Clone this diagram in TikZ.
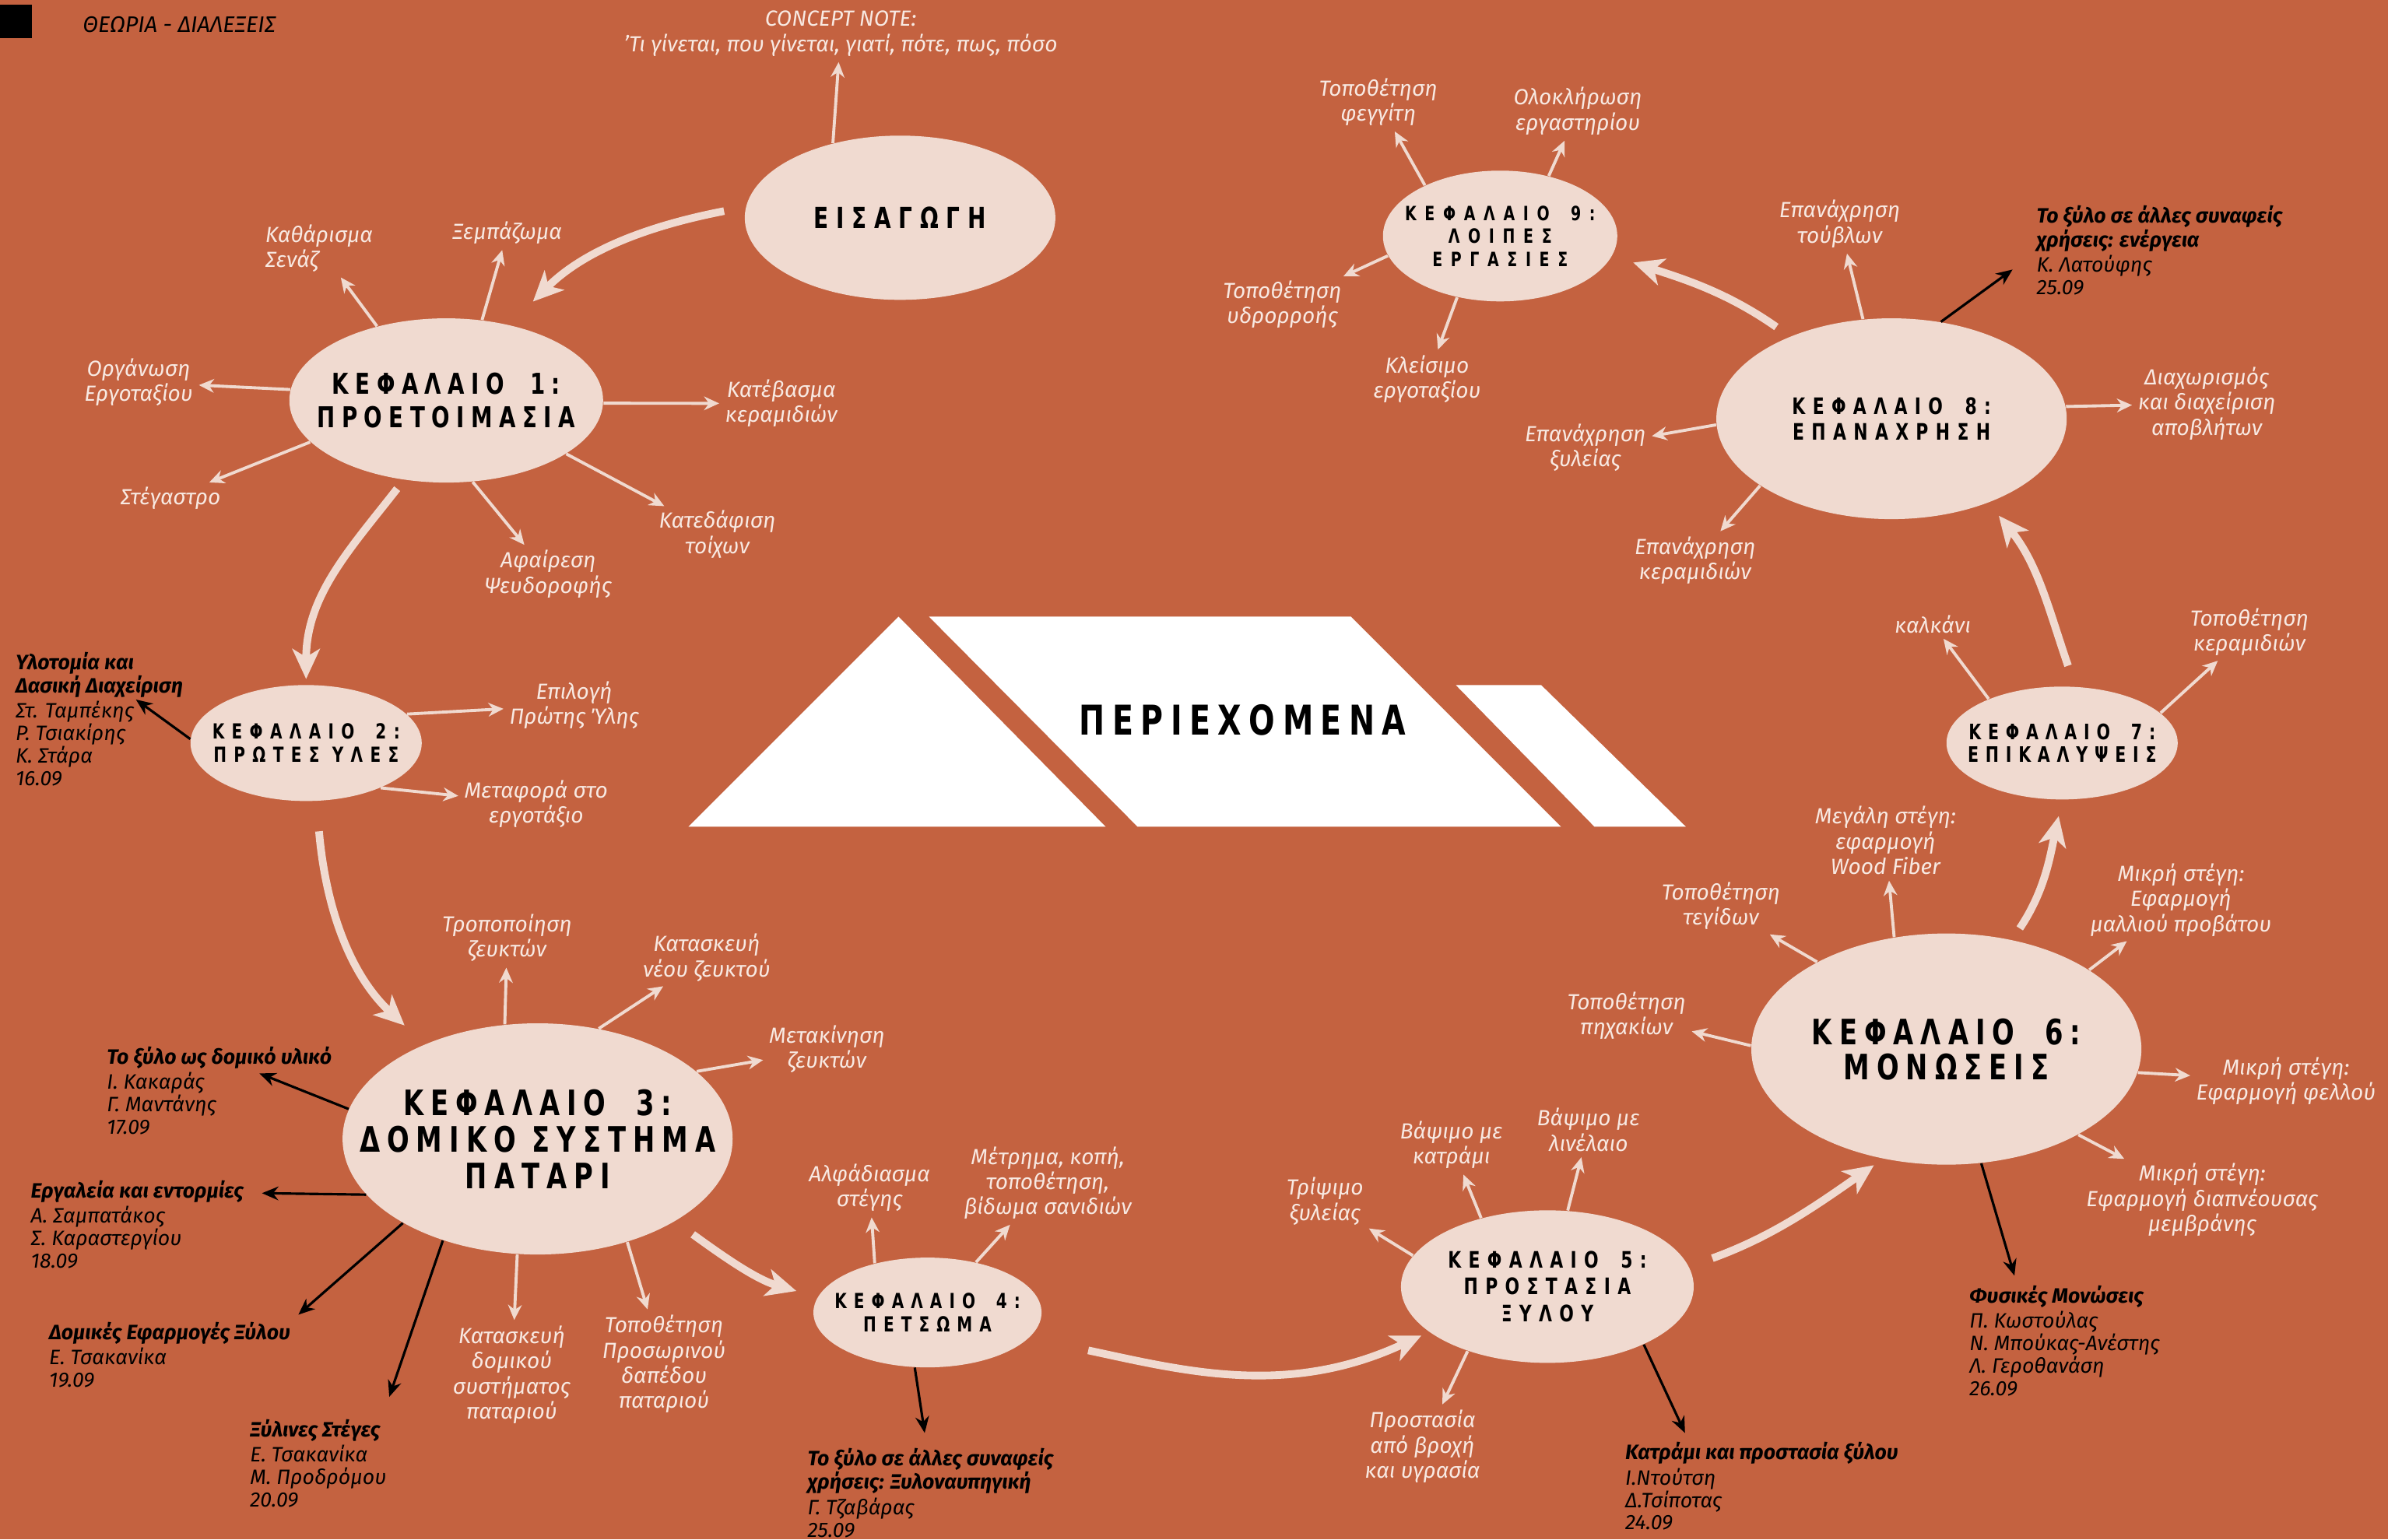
\documentclass[tikz,border=0pt]{standalone}
\usepackage{fontspec}
\setmainfont{Fira Sans}
\newfontfamily\capsfont[FakeStretch=0.75]{DejaVu Sans}
\usetikzlibrary{shapes.geometric,arrows.meta,positioning}

\definecolor{terra}{RGB}{196,98,64}
\definecolor{blush}{RGB}{240,218,208}
\definecolor{labelc}{RGB}{248,233,226}

% title font: size, baselineskip, letter spacing
\newcommand\ctitlefont[3]{\fontsize{#1}{#2}\selectfont\capsfont\bfseries\addfontfeature{LetterSpace=#3}}
\newcommand\kef[1]{ΚΕΦΑΛΑΙΟ\hspace{0.4em} #1:}

\tikzset{
  chapnode/.style 2 args={ellipse, fill=blush, minimum width=#1cm, minimum height=#2cm,
    inner sep=-30pt, align=center, text=black},
  lbl/.style={text=labelc, font=\fontsize{8}{9.2}\selectfont\itshape, align=center, inner sep=1pt},
  blk/.style={text=black, font=\fontsize{7.6}{8.2}\selectfont\itshape, align=left, inner sep=0.5pt, anchor=north west},
  blkt/.style={blk, font=\fontsize{7.6}{8.6}\selectfont\itshape\bfseries},
  spoke/.style={draw=blush, line width=1.1pt, -{Stealth[length=5.5pt,width=5pt]}, shorten >=1pt},
  flow/.style={draw=blush, line width=2.8pt, -{Stealth[length=11pt,width=10pt,inset=3pt]}},
  blackarr/.style={draw=black, line width=0.9pt, -{Stealth[length=6pt,width=5pt]}}
}

\begin{document}
\begin{tikzpicture}[x=0.019566cm, y=-0.019566cm]

  % page
  \fill[terra] (0,0) rectangle (1568,1011);
  \useasboundingbox (0,0) rectangle (1568,1011);
  \fill[black] (0,3) rectangle (21,25);
  \node[text=black, font=\fontsize{8.2}{9}\selectfont\itshape, anchor=west] (theo) at (48,16) {ΘΕΩΡΙΑ - ΔΙΑΛΕΞΕΙΣ};

  % central roof
  \fill[white] (590,405) -- (726,543) -- (452,543) -- cycle;
  \fill[white] (610,405) -- (887,405) -- (1025,543) -- (747,543) -- cycle;
  \fill[white] (956,450) -- (1012,450) -- (1107,543) -- (1047,543) -- cycle;
  \node[font=\ctitlefont{15}{16}{18}] (cont) at (816,473) {ΠΕΡΙΕΧΟΜΕΝΑ};

  % chapters
  \node[chapnode={3.99}{2.11}, font=\ctitlefont{10.6}{11}{26}] (eis) at (591,143) {ΕΙΣΑΓΩΓΗ};
  \node[chapnode={4.03}{2.11}, font=\ctitlefont{10.5}{12.3}{23}] (k1) at (293,263) {\kef{1}\\ΠΡΟΕΤΟΙΜΑΣΙΑ};
  \node[chapnode={2.97}{1.49}, font=\ctitlefont{7.6}{8.4}{35}] (k2) at (201,488) {\kef{2}\\ΠΡΩΤΕΣ ΥΛΕΣ};
  \node[chapnode={5.01}{2.97}, font=\ctitlefont{12.8}{13.3}{20}] (k3) at (353,748) {\kef{3}\\ΔΟΜΙΚΟ ΣΥΣΤΗΜΑ\\ΠΑΤΑΡΙ};
  \node[chapnode={2.93}{1.41}, font=\ctitlefont{7.6}{8.4}{34}] (k4) at (609,862) {\kef{4}\\ΠΕΤΣΩΜΑ};
  \node[chapnode={3.76}{1.96}, font=\ctitlefont{8.3}{9.7}{32}] (k5) at (1016,845) {\kef{5}\\ΠΡΟΣΤΑΣΙΑ\\ΞΥΛΟΥ};
  \node[chapnode={5.01}{2.97}, font=\ctitlefont{12.8}{12.8}{20}] (k6) at (1278,689) {\kef{6}\\ΜΟΝΩΣΕΙΣ};
  \node[chapnode={2.97}{1.45}, font=\ctitlefont{7.8}{8.4}{32}] (k7) at (1354,488) {\kef{7}\\ΕΠΙΚΑΛΥΨΕΙΣ};
  \node[chapnode={4.50}{2.58}, font=\ctitlefont{8.3}{9.5}{32}] (k8) at (1242,275) {\kef{8}\\ΕΠΑΝΑΧΡΗΣΗ};
  \node[chapnode={3.01}{1.68}, font=\ctitlefont{7.2}{8.4}{42}] (k9) at (985,155) {\kef{9}\\ΛΟΙΠΕΣ\\ΕΡΓΑΣΙΕΣ};

  % white labels
  \node[lbl] (concept) at (552,22) {CONCEPT NOTE:\\'Τι γίνεται, που γίνεται, γιατί, πότε, πως, πόσο};

  \node[lbl, align=left, anchor=west] (kath) at (172,163) {Καθάρισμα\\Σενάζ};
  \node[lbl] (xemp) at (333,153) {Ξεμπάζωμα};
  \node[lbl] (org) at (91,251) {Οργάνωση\\Εργοταξίου};
  \node[lbl] (steg) at (112,327) {Στέγαστρο};
  \node[lbl] (kateb) at (513,265) {Κατέβασμα\\κεραμιδιών};
  \node[lbl] (kated) at (471,351) {Κατεδάφιση\\τοίχων};
  \node[lbl] (afair) at (360,377) {Αφαίρεση\\Ψευδοροφής};

  \node[lbl] (epil) at (377,463) {Επιλογή\\Πρώτης Ύλης};
  \node[lbl] (metaf) at (352,528) {Μεταφορά στο\\εργοτάξιο};

  \node[lbl] (tropo) at (333,616) {Τροποποίηση\\ζευκτών};
  \node[lbl] (kataz) at (464,629) {Κατασκευή\\νέου ζευκτού};
  \node[lbl] (metak) at (543,689) {Μετακίνηση\\ζευκτών};
  \node[lbl] (katad) at (336,903) {Κατασκευή\\δομικού\\συστήματος\\παταριού};
  \node[lbl] (topop) at (436,896) {Τοποθέτηση\\Προσωρινού\\δαπέδου\\παταριού};

  \node[lbl] (alfa) at (571,780) {Αλφάδιασμα\\στέγης};
  \node[lbl] (metr) at (688,777) {Μέτρημα, κοπή,\\τοποθέτηση,\\βίδωμα σανιδιών};

  \node[lbl] (trip) at (870,789) {Τρίψιμο\\ξυλείας};
  \node[lbl] (vkat) at (953,752) {Βάψιμο με\\κατράμι};
  \node[lbl] (vlin) at (1043,742) {Βάψιμο με\\λινέλαιο};
  \node[lbl] (prost) at (934,950) {Προστασία\\από βροχή\\και υγρασία};

  \node[lbl] (pich) at (1068,667) {Τοποθέτηση\\πηχακίων};
  \node[lbl] (teg) at (1130,595) {Τοποθέτηση\\τεγίδων};
  \node[lbl] (wood) at (1238,552) {Μεγάλη στέγη:\\εφαρμογή\\Wood Fiber};
  \node[lbl] (mall) at (1432,591) {Μικρή στέγη:\\Εφαρμογή\\μαλλιού προβάτου};
  \node[lbl] (fell) at (1501,710) {Μικρή στέγη:\\Εφαρμογή φελλού};
  \node[lbl] (memb) at (1446,788) {Μικρή στέγη:\\Εφαρμογή διαπνέουσας\\μεμβράνης};

  \node[lbl] (kalk) at (1269,410) {καλκάνι};
  \node[lbl] (topk) at (1477,415) {Τοποθέτηση\\κεραμιδιών};

  \node[lbl] (tuvl) at (1208,147) {Επανάχρηση\\τούβλων};
  \node[lbl] (xyle) at (1041,294) {Επανάχρηση\\ξυλείας};
  \node[lbl] (keram) at (1113,368) {Επανάχρηση\\κεραμιδιών};
  \node[lbl] (diax) at (1449,265) {Διαχωρισμός\\και διαχείριση\\αποβλήτων};

  \node[lbl] (feg) at (905,67) {Τοποθέτηση\\φεγγίτη};
  \node[lbl] (olok) at (1036,73) {Ολοκλήρωση\\εργαστηρίου};
  \node[lbl] (ydr) at (842,200) {Τοποθέτηση\\υδρορροής};
  \node[lbl] (klei) at (937,249) {Κλείσιμο\\εργοταξίου};

  % black labels (lectures)
  \node[blkt] (ylot) at (9,427) {Υλοτομία και\\Δασική Διαχείριση};
  \node[blk] (ylotn) at (ylot.south west) {Στ. Ταμπέκης\\Ρ. Τσιακίρης\\Κ. Στάρα\\16.09};
  \node[blkt] (xdom) at (69,686) {Το ξύλο ως δομικό υλικό};
  \node[blk] (xdomn) at (xdom.south west) {Ι. Κακαράς\\Γ. Μαντάνης\\17.09};
  \node[blkt] (erg) at (19,774) {Εργαλεία και εντορμίες};
  \node[blk] (ergn) at (erg.south west) {Α. Σαμπατάκος\\Σ. Καραστεργίου\\18.09};
  \node[blkt] (dom) at (31,867) {Δομικές Εφαρμογές Ξύλου};
  \node[blk] (domn) at (dom.south west) {Ε. Τσακανίκα\\19.09};
  \node[blkt] (xyl) at (163,931) {Ξύλινες Στέγες};
  \node[blk] (xyln) at (xyl.south west) {Ε. Τσακανίκα\\Μ. Προδρόμου\\20.09};
  \node[blkt] (xna) at (529,950) {Το ξύλο σε άλλες συναφείς\\χρήσεις: Ξυλοναυπηγική};
  \node[blk] (xnan) at (xna.south west) {Γ. Τζαβάρας\\25.09};
  \node[blkt] (katr) at (1066,946) {Κατράμι και προστασία ξύλου};
  \node[blk] (katrn) at (katr.south west) {Ι.Ντούτση\\Δ.Τσίποτας\\24.09};
  \node[blkt] (fys) at (1292,843) {Φυσικές Μονώσεις};
  \node[blk] (fysn) at (fys.south west) {Π. Κωστούλας\\Ν. Μπούκας-Ανέστης\\Λ. Γεροθανάση\\26.09};
  \node[blkt] (ener) at (1336,134) {Το ξύλο σε άλλες συναφείς\\χρήσεις: ενέργεια};
  \node[blk] (enern) at (ener.south west) {Κ. Λατούφης\\25.09};

  % flow between chapters
  \draw[flow, shorten <=8pt, shorten >=12pt] (eis.176) to[out=191,in=45] (k1.50);
  \draw[flow, shorten <=4pt, shorten >=2pt] (k1.242) to[out=232,in=90] (k2.90);
  \draw[flow, shorten <=11pt, shorten >=10pt] (k2.280) to[out=275,in=137] (k3.140);
  \draw[flow, shorten <=8pt, shorten >=8pt] (k3.329) to[out=324,in=164] (k4.172);
  \draw[flow, shorten <=22pt, shorten >=3pt] (k4.346) to[out=348,in=205] (k5.201);
  \draw[flow, shorten <=9pt, shorten >=4pt] (k5.8) to[out=20,in=215] (k6.240);
  \draw[flow, shorten <=5pt, shorten >=6pt] (k6.59) to[out=56,in=258] (k7.270);
  \draw[flow, shorten <=8pt, shorten >=6pt] (k7.77) to[out=109,in=309] (k8.319);
  \draw[flow, shorten <=6pt, shorten >=8pt] (k8.141) to[out=145,in=342] (k9.350);

  % spokes
  \draw[spoke] (eis.132) -- (concept);
  \draw[spoke] (k1.133) -- (kath);
  \draw[spoke] (k1.66) -- (xemp);
  \draw[spoke] (k1.176) -- (org);
  \draw[spoke] (k1.197) -- (steg);
  \draw[spoke] (k1.359) -- (kateb);
  \draw[spoke] (k1.336) -- (kated);
  \draw[spoke] (k1.288) -- (afair);
  \draw[spoke] (k2.16) -- (epil);
  \draw[spoke] (k2.329) -- (metaf);
  \draw[spoke] (k3.106) -- (tropo);
  \draw[spoke] (k3.61) -- (kataz);
  \draw[spoke] (k3.23) -- (metak);
  \draw[spoke] (k3.260) -- (katad);
  \draw[spoke] (k3.311) -- (topop);
  \draw[spoke] (k4.137) -- (alfa);
  \draw[spoke] (k4.46) -- (metr);
  \draw[spoke] (k5.167) -- (trip);
  \draw[spoke] (k5.134) -- (vkat);
  \draw[spoke] (k5.75) -- (vlin);
  \draw[spoke] (k5.219) -- (prost);
  \draw[spoke] (k6.179) -- (pich);
  \draw[spoke] (k6.146) -- (teg);
  \draw[spoke] (k6.115) -- (wood);
  \draw[spoke] (k6.29) -- (mall);
  \draw[spoke] (k6.353) -- (fell);
  \draw[spoke] (k6.327) -- (memb);
  \draw[spoke] (k7.149) -- (kalk);
  \draw[spoke] (k7.17) -- (topk);
  \draw[spoke] (k8.106) -- (tuvl);
  \draw[spoke] (k8.182) -- (xyle);
  \draw[spoke] (k8.207) -- (keram);
  \draw[spoke] (k8.4) -- (diax);
  \draw[spoke] (k9.146) -- (feg);
  \draw[spoke] (k9.51) -- (olok);
  \draw[spoke] (k9.190) -- (ydr);
  \draw[spoke] (k9.235) -- (klei);

  % lectures
  \draw[blackarr] (k2.178) -- (ylotn.north east);
  \draw[blackarr, shorten >=3pt] (k3.171) -- (xdom);
  \draw[blackarr, shorten >=6pt] (k3.198) -- (erg);
  \draw[blackarr, shorten >=3pt] (k3.212) -- (dom.north east);
  \draw[blackarr, shorten >=8pt] (k3.227) -- (xyl.north east);
  \draw[blackarr, shorten >=5pt] (k4.257) -- (xna);
  \draw[blackarr, shorten >=3pt] (k5.329) -- (katr.170);
  \draw[blackarr, shorten >=3pt] (k6.287) -- (fys.162);
  \draw[blackarr, shorten >=10pt] (k8.63) -- (ener.south west);

\end{tikzpicture}
\end{document}
